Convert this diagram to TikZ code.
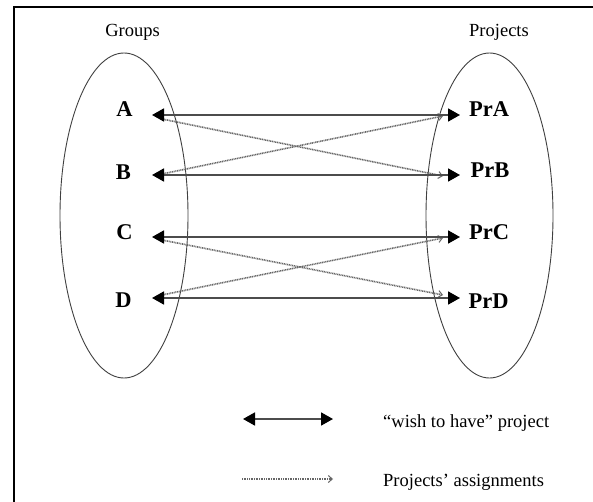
\documentclass[tikz,border=0pt]{standalone}
\usepackage{fontspec}
\setmainfont{Liberation Serif}
\usetikzlibrary{arrows.meta}
\begin{document}
\begin{tikzpicture}[x=1pt,y=-1pt,
  lbl/.style={font=\fontsize{18.5}{20}\selectfont, inner sep=0pt, anchor=base},
  letter/.style={font=\fontsize{22.5}{25}\selectfont\bfseries, inner sep=0pt, anchor=base},
  legtext/.style={font=\fontsize{18.5}{20}\selectfont, inner sep=0pt, anchor=base west},
  setell/.style={draw=black!75, line width=0.9pt},
  wish/.style={draw=black!70, line width=1.8pt,
     {Triangle[length=12pt,width=13pt,fill=black,color=black]}-{Triangle[length=12pt,width=13pt,fill=black,color=black]}},
  assign/.style={draw=black!60, line width=1.6pt, dash pattern=on 1pt off 0.7pt,
     -{Straight Barb[length=4pt,width=7pt,line width=1pt]}},
  frameline/.style={line width=2.8pt, line cap=rect}]
\useasboundingbox (0,0) rectangle (593,502);
\fill[white] (0,0) rectangle (593,502);
% frame (cut by page)
\draw[frameline] (14,505) -- (14,7) -- (596,7);
% sets
\draw[setell] (124,215.5) ellipse [x radius=64, y radius=162.5];
\draw[setell] (489.5,215.5) ellipse [x radius=63.5, y radius=162.5];
% titles
\node[lbl] (groups) at (132.5,37) {Groups};
\node[lbl] (projects) at (499,37) {Projects};
% group letters
\node[letter] (A) at (124.5,117) {A};
\node[letter] (B) at (123.5,180) {B};
\node[letter] (C) at (124.5,240) {C};
\node[letter] (D) at (123.5,307) {D};
% projects
\node[letter] (PrA) at (489,117) {PrA};
\node[letter] (PrB) at (490,178) {PrB};
\node[letter] (PrC) at (489,240) {PrC};
\node[letter] (PrD) at (488.5,308) {PrD};
% connector ends
\coordinate (aL) at (152,115);   \coordinate (aR) at (460,115);
\coordinate (bL) at (152,175);   \coordinate (bR) at (460,175);
\coordinate (cL) at (152,237);   \coordinate (cR) at (460,237);
\coordinate (dL) at (152,298);   \coordinate (dR) at (460,298);
\coordinate (aS) at (162,119);   \coordinate (prbE) at (443,176);
\coordinate (bS) at (162,174);   \coordinate (praE) at (443,116);
\coordinate (cS) at (162,240);   \coordinate (prdE) at (443,295);
\coordinate (dS) at (162,295);   \coordinate (prcE) at (443,238);
% assignments (dotted)
\draw[assign] (aS) -- (prbE);
\draw[assign] (bS) -- (praE);
\draw[assign] (cS) -- (prdE);
\draw[assign] (dS) -- (prcE);
% wishes (solid, double headed)
\draw[wish] (aL) -- (aR);
\draw[wish] (bL) -- (bR);
\draw[wish] (cL) -- (cR);
\draw[wish] (dL) -- (dR);
% legend
\coordinate (l1L) at (243,419); \coordinate (l1R) at (333,419);
\coordinate (l2L) at (242,479); \coordinate (l2R) at (333,479);
\draw[wish] (l1L) -- (l1R);
\draw[assign] (l2L) -- (l2R);
\node[legtext] (legwish) at (383,427) {“wish to have” project};
\node[legtext] (legassign) at (383,486) {Projects’ assignments};
\end{tikzpicture}
\end{document}
